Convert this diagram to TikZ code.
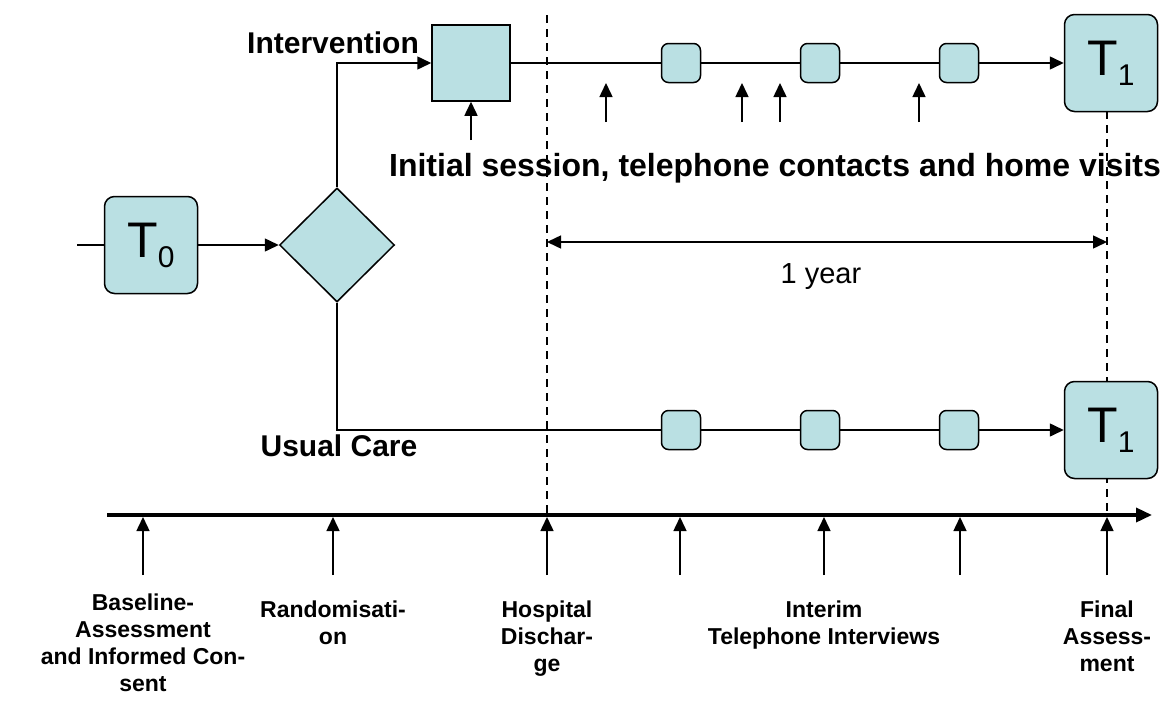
\documentclass[tikz,border=0pt]{standalone}
\usepackage{fontspec}
\setmainfont{Liberation Sans}
\usetikzlibrary{arrows.meta,shapes.geometric,positioning}

\definecolor{boxfill}{RGB}{186,224,227}
\newcommand{\Tlabel}[1]{T\raisebox{-0.2em}{\fontsize{30}{30}\selectfont #1}}

\tikzset{
  tip/.style={-{Triangle[length=14pt,width=13pt]}},
  bigbox/.style={draw,fill=boxfill,rounded corners=10pt,line width=1.5pt,
    minimum width=93pt,minimum height=97pt,inner sep=0pt,font=\fontsize{50}{50}\selectfont},
  smallbox/.style={draw,fill=boxfill,rounded corners=7pt,line width=1.5pt,
    minimum size=39pt,inner sep=0pt},
  tick/.style={line width=1.5pt,tip},
  guide/.style={line width=1.3pt,dash pattern=on 8pt off 6pt},
  steplabel/.style={font=\fontsize{23}{27}\selectfont\bfseries,align=center,anchor=north},
}

\begin{document}
\begin{tikzpicture}[x=1pt,y=-1pt,line width=1.5pt]
  \useasboundingbox (0,0) rectangle (1168,704);

  % dashed guides for the one year period
  \coordinate (g1a) at (547,15);
  \coordinate (g1b) at (547,515);
  \coordinate (g2a) at (1107,111);
  \coordinate (g2b) at (1107,515);
  \draw[guide] (g1a) -- (g1b);
  \draw[guide] (g2a) -- (g2b);

  % baseline and randomisation
  \coordinate (start) at (77,245);
  \node[bigbox] (T0) at (151,245) {\Tlabel{0}};
  \node[diamond,draw,fill=boxfill,line width=1.5pt,minimum width=115pt,
        minimum height=114pt,inner sep=0pt] (rand) at (337,245) {};

  % intervention arm
  \node[draw,fill=boxfill,line width=1.5pt,minimum width=78pt,minimum height=76pt,
        inner sep=0pt] (init) at (471,63) {};
  \node[smallbox] (ib1) at (681,63) {};
  \node[smallbox] (ib2) at (820,63) {};
  \node[smallbox] (ib3) at (959,63) {};
  \node[bigbox] (iT1) at (1111,63) {\Tlabel{1}};

  % usual care arm
  \node[smallbox] (ub1) at (681,430) {};
  \node[smallbox] (ub2) at (820,430) {};
  \node[smallbox] (ub3) at (959,430) {};
  \node[bigbox] (uT1) at (1111,430) {\Tlabel{1}};

  \draw (start) -- (T0);
  \draw[tip] (T0) -- (rand);
  \draw[tip] (rand.north) |- (init.west);
  \draw (init) -- (ib1) -- (ib2) -- (ib3);
  \draw[tip] (ib3) -- (iT1);
  \draw (rand.south) |- (ub1.west);
  \draw (ub1) -- (ub2) -- (ub3);
  \draw[tip] (ub3) -- (uT1);

  \node[font=\fontsize{30}{30}\selectfont\bfseries] (interv) at (333,43) {Intervention};
  \node[font=\fontsize{30}{30}\selectfont\bfseries] (usual) at (339,446) {Usual Care};

  % contacts during the intervention
  \coordinate (s0) at (471,140);
  \draw[tick] (s0) -- (init.south);
  \foreach \x [count=\i] in {606,742,780,919} {
    \coordinate (c\i) at (\x,122);
    \coordinate (d\i) at (\x,83);
    \draw[tick] (c\i) -- (d\i);
  }
  \node[font=\fontsize{32}{32}\selectfont\bfseries] (contacts) at (775,168)
    {Initial session, telephone contacts and home visits};

  % one year
  \coordinate (y1) at (547,242);
  \coordinate (y2) at (1107,242);
  \draw[{Triangle[length=14pt,width=13pt]}-{Triangle[length=14pt,width=13pt]}] (y1) -- (y2);
  \node[font=\fontsize{29}{29}\selectfont] (year) at (821,277) {1 year};

  % time axis
  \coordinate (ax1) at (107,515);
  \coordinate (ax2) at (1152,515);
  \draw[line width=3.5pt,-{Triangle[length=16pt,width=14pt]}] (ax1) -- (ax2);
  \foreach \x [count=\i] in {143,333,547,680,824,960,1107} {
    \coordinate (t\i) at (\x,575);
    \coordinate (h\i) at (\x,517);
    \draw[tick] (t\i) -- (h\i);
  }

  \node[steplabel] (lbase) at (143,590) {Baseline-\\Assessment\\and Informed Con-\\sent};
  \node[steplabel] (lrand) at (333,597) {Randomisati-\\on};
  \node[steplabel] (lhosp) at (547,597) {Hospital\\Dischar-\\ge};
  \node[steplabel] (lint) at (824,597) {Interim\\Telephone Interviews};
  \node[steplabel] (lfin) at (1107,597) {Final\\Assess-\\ment};
\end{tikzpicture}
\end{document}
